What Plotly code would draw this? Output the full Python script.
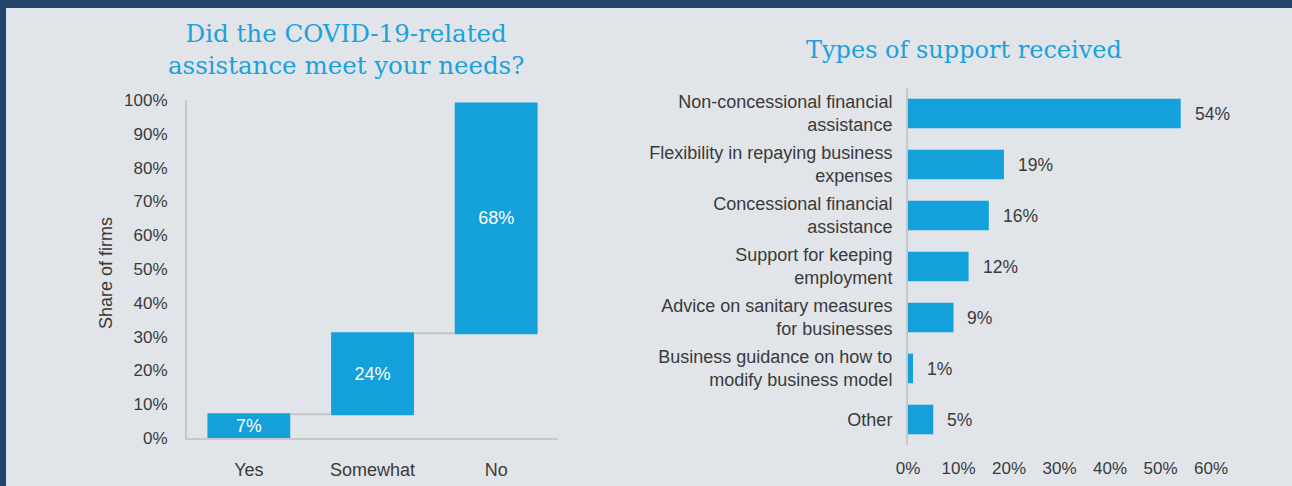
import plotly.graph_objects as go

W, H = 1292, 486

# ---- data ----
need_cats = ["Yes", "Somewhat", "No"]
need_vals = [7, 24, 68]
need_ticks = [0, 10, 20, 30, 40, 50, 60, 70, 80, 90, 100]

support_cats = [
    "Non-concessional financial<br>assistance",
    "Flexibility in repaying business<br>expenses",
    "Concessional financial<br>assistance",
    "Support for keeping<br>employment",
    "Advice on sanitary measures<br>for businesses",
    "Business guidance on how to<br>modify business model",
    "Other",
]
support_vals = [54, 19, 16, 12, 9, 1, 5]
support_ticks = [0, 10, 20, 30, 40, 50, 60]

BLUE = "#13a0db"
TITLE_BLUE = "#1ba1db"
TEXT = "#3a3a3a"
AXIS = "#c6c8cb"
PANEL = "#e1e5e9"
NAVY = "#23446a"
FONT = "Liberation Sans, Arial, sans-serif"
TFONT = "DejaVu Serif, serif"
FS = 17

def px_x(p):
    return p / W

def px_y(p):
    return 1 - p / H

fig = go.Figure()

fig.add_trace(go.Waterfall(
    x=need_cats,
    y=need_vals,
    measure=["relative"] * len(need_vals),
    text=[f"{v}%" for v in need_vals],
    textposition="inside",
    insidetextanchor="middle",
    textfont=dict(color="white", size=18, family=FONT),
    increasing=dict(marker=dict(color=BLUE, line=dict(width=0))),
    connector=dict(line=dict(color="#c3c5c8", width=2)),
    width=0.67,
    xaxis="x", yaxis="y",
    showlegend=False,
    hoverinfo="skip",
))

fig.add_trace(go.Bar(
    x=support_vals,
    y=support_cats,
    orientation="h",
    marker=dict(color=BLUE, line=dict(width=0)),
    width=0.58,
    xaxis="x2", yaxis="y2",
    showlegend=False,
    hoverinfo="skip",
))

annotations = []
for c, v in zip(support_cats, support_vals):
    annotations.append(dict(
        x=v, y=c, xref="x2", yref="y2", text=f"{v}%", showarrow=False,
        xanchor="left", yanchor="middle", xshift=12,
        font=dict(size=17.5, color=TEXT, family=FONT),
    ))

annotations += [
    dict(x=px_x(346), y=px_y(50), xref="paper", yref="paper",
         text="Did the COVID-19-related<br>assistance meet your needs?",
         showarrow=False, xanchor="center", yanchor="middle", align="center",
         font=dict(size=24.5, color=TITLE_BLUE, family=TFONT)),
    dict(x=px_x(964), y=px_y(50), xref="paper", yref="paper",
         text="Types of support received",
         showarrow=False, xanchor="center", yanchor="middle",
         font=dict(size=24, color=TITLE_BLUE, family=TFONT)),
    dict(x=px_x(106), y=px_y(273), xref="paper", yref="paper",
         text="Share of firms", textangle=-90,
         showarrow=False, xanchor="center", yanchor="middle",
         font=dict(size=18, color=TEXT, family=FONT)),
]

fig.update_layout(
    width=W, height=H,
    autosize=False,
    margin=dict(l=0, r=0, t=0, b=0, pad=0, autoexpand=False),
    paper_bgcolor=NAVY,
    plot_bgcolor="rgba(0,0,0,0)",
    font=dict(family=FONT, size=FS, color=TEXT),
    xaxis=dict(
        domain=[px_x(187), px_x(558)],
        anchor="y", automargin=False,
        showline=True, linecolor=AXIS, linewidth=2,
        showgrid=False, zeroline=False,
        ticks="", ticklabelstandoff=14,
        tickfont=dict(size=18, color=TEXT),
    ),
    yaxis=dict(
        domain=[px_y(438), px_y(100)],
        anchor="x", automargin=False,
        range=[0, 100],
        tickvals=need_ticks,
        ticktext=[f"{t}%" for t in need_ticks],
        showline=True, linecolor=AXIS, linewidth=2,
        showgrid=False, zeroline=False,
        ticks="", ticklabelstandoff=14,
        tickfont=dict(size=FS, color=TEXT),
    ),
    xaxis2=dict(
        domain=[px_x(908), px_x(1211)],
        anchor="y2", automargin=False,
        range=[0, 60],
        tickvals=support_ticks,
        ticktext=[f"{t}%" for t in support_ticks],
        showline=False, showgrid=False, zeroline=False,
        ticks="", ticklabelstandoff=11,
        tickfont=dict(size=FS, color=TEXT),
    ),
    yaxis2=dict(
        domain=[px_y(445), px_y(88)],
        anchor="x2", automargin=False,
        autorange="reversed",
        showline=True, linecolor=AXIS, linewidth=2,
        showgrid=False, zeroline=False,
        ticks="", ticklabelstandoff=10,
        tickfont=dict(size=18, color=TEXT),
    ),
    annotations=annotations,
    shapes=[dict(
        type="rect", xref="paper", yref="paper",
        x0=px_x(6), x1=1.0, y0=0.0, y1=px_y(8),
        fillcolor=PANEL, line=dict(width=0), layer="below",
    )],
)

fig.write_html(
    "out.html",
    config={"displayModeBar": False},
    post_script="document.body.style.margin='0';",
)
